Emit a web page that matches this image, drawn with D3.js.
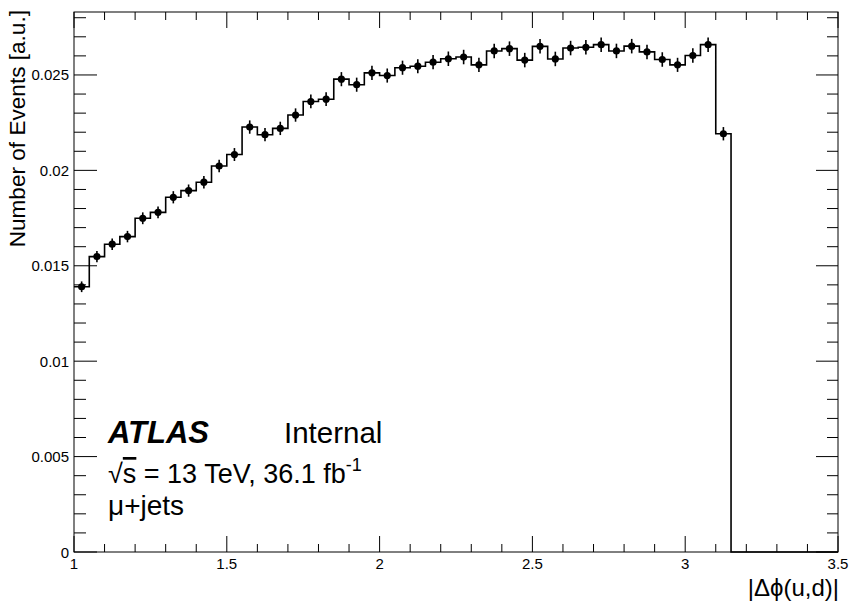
<!DOCTYPE html>
<html>
<head>
<meta charset="utf-8">
<script src="https://cdn.jsdelivr.net/npm/d3@7"></script>
<style>
  html, body { margin: 0; padding: 0; background: #fff; }
  svg { display: block; font-family: "Liberation Sans", Arial, Helvetica, sans-serif; }
</style>
</head>
<body>
<svg id="chart" width="849" height="607"></svg>
<script>
// ---- data ----
const binEdges = [1.00,1.05,1.10,1.15,1.20,1.25,1.30,1.35,1.40,1.45,1.50,1.55,1.60,1.65,1.70,1.75,1.80,1.85,1.90,1.95,
                  2.00,2.05,2.10,2.15,2.20,2.25,2.30,2.35,2.40,2.45,2.50,2.55,2.60,2.65,2.70,2.75,2.80,2.85,2.90,2.95,
                  3.00,3.05,3.10,3.15];
const values = [0.01390,0.01548,0.01613,0.01653,0.01749,0.01780,0.01859,0.01894,0.01938,0.02023,
                0.02083,0.02227,0.02187,0.02220,0.02290,0.02361,0.02373,0.02478,0.02449,0.02511,
                0.02497,0.02538,0.02546,0.02567,0.02585,0.02594,0.02553,0.02626,0.02638,0.02578,
                0.02650,0.02584,0.02641,0.02645,0.02659,0.02626,0.02651,0.02621,0.02581,0.02553,
                0.02602,0.02659,0.02192];
const errors = [0.00028,0.00029,0.00030,0.00030,0.00031,0.00031,0.00032,0.00032,0.00033,0.00033,
                0.00034,0.00035,0.00035,0.00035,0.00035,0.00036,0.00036,0.00037,0.00037,0.00037,
                0.00037,0.00037,0.00037,0.00037,0.00038,0.00038,0.00037,0.00038,0.00038,0.00038,
                0.00038,0.00038,0.00038,0.00038,0.00038,0.00038,0.00038,0.00038,0.00038,0.00037,
                0.00038,0.00038,0.00035];
const xMajorTicks = [1, 1.5, 2, 2.5, 3, 3.5];
const xTickLabels = ["1", "1.5", "2", "2.5", "3", "3.5"];
const yMajorTicks = [0, 0.005, 0.01, 0.015, 0.02, 0.025];
const yTickLabels = ["0", "0.005", "0.01", "0.015", "0.02", "0.025"];
const xDomain = [1, 3.5];
const yDomain = [0, 0.0283];

// ---- layout ----
const svg = d3.select("#chart");
const W = 849, H = 607;
const m = {left: 74, right: 11, top: 12, bottom: 55};
const pw = W - m.left - m.right, ph = H - m.top - m.bottom;
const x = d3.scaleLinear().domain(xDomain).range([m.left, m.left + pw]);
const y = d3.scaleLinear().domain(yDomain).range([m.top + ph, m.top]);

const xMinor = d3.range(10, 36).map(d => d / 10).filter(d => !xMajorTicks.some(t => Math.abs(t - d) < 1e-9));
const yMinor = d3.range(0, 29).map(d => d / 1000).filter(d => !yMajorTicks.some(t => Math.abs(t - d) < 1e-9));

const tickCol = "#000";
const g = svg.append("g");

// ticks
function ticks(vals, len, side) {
  const sel = g.append("g").attr("stroke", tickCol).attr("stroke-width", 1);
  vals.forEach(v => {
    if (side === "bottom") sel.append("line").attr("x1", x(v)).attr("x2", x(v)).attr("y1", m.top + ph).attr("y2", m.top + ph - len);
    if (side === "top") sel.append("line").attr("x1", x(v)).attr("x2", x(v)).attr("y1", m.top).attr("y2", m.top + len);
    if (side === "left") sel.append("line").attr("y1", y(v)).attr("y2", y(v)).attr("x1", m.left).attr("x2", m.left + len);
    if (side === "right") sel.append("line").attr("y1", y(v)).attr("y2", y(v)).attr("x1", m.left + pw).attr("x2", m.left + pw - len);
  });
}
ticks(xMajorTicks, 16, "bottom"); ticks(xMinor, 8, "bottom");
ticks(xMajorTicks, 16, "top"); ticks(xMinor, 8, "top");
ticks(yMajorTicks, 23, "left"); ticks(yMinor, 12, "left");
ticks(yMajorTicks, 22, "right"); ticks(yMinor, 11, "right");

// frame
g.append("rect").attr("x", m.left).attr("y", m.top).attr("width", pw).attr("height", ph)
  .attr("fill", "none").attr("stroke", "#000").attr("stroke-width", 1);

// tick labels
g.append("g").selectAll("text").data(xMajorTicks).join("text")
  .attr("x", d => x(d)).attr("y", m.top + ph + 17)
  .attr("text-anchor", "middle").attr("font-size", 15).text((d, i) => xTickLabels[i]);
g.append("g").selectAll("text").data(yMajorTicks).join("text")
  .attr("x", m.left - 5).attr("y", d => y(d) + 5.5)
  .attr("text-anchor", "end").attr("font-size", 15).text((d, i) => yTickLabels[i]);

// axis titles
g.append("text").attr("transform", `translate(25,${m.top - 2}) rotate(-90)`)
  .attr("text-anchor", "end").attr("font-size", 22.6).text("Number of Events [a.u.]");
g.append("text").attr("x", m.left + pw + 1).attr("y", H - 11)
  .attr("text-anchor", "end").attr("font-size", 24).text("|Δϕ(u,d)|");

// histogram step line
const stepPts = values.map((v, i) => [binEdges[i], v]);
stepPts.push([binEdges[binEdges.length - 1], 0]);
stepPts.push([xDomain[1], 0]);
const line = d3.line().x(d => x(d[0])).y(d => y(d[1])).curve(d3.curveStepAfter);
g.append("path").attr("d", line(stepPts)).attr("fill", "none").attr("stroke", "#000").attr("stroke-width", 1.6);

// data points with errors
const centers = values.map((v, i) => (binEdges[i] + binEdges[i + 1]) / 2);
const pts = g.append("g");
pts.selectAll("line").data(values).join("line")
  .attr("x1", (d, i) => x(centers[i])).attr("x2", (d, i) => x(centers[i]))
  .attr("y1", (d, i) => y(d - errors[i])).attr("y2", (d, i) => y(d + errors[i]))
  .attr("stroke", "#000").attr("stroke-width", 1.6);
pts.selectAll("circle").data(values).join("circle")
  .attr("cx", (d, i) => x(centers[i])).attr("cy", d => y(d)).attr("r", 3.6).attr("fill", "#000");

// ATLAS label
const lab = g.append("g");
lab.append("text").attr("x", 108).attr("y", 443).attr("font-size", 31)
  .attr("font-weight", "bold").attr("font-style", "italic").text("ATLAS");
lab.append("text").attr("x", 284).attr("y", 443).attr("font-size", 29.5).text("Internal");
const t2 = lab.append("text").attr("x", 108).attr("y", 483).attr("font-size", 27);
t2.append("tspan").text("√");
t2.append("tspan").attr("text-decoration", "overline").text("s");
t2.append("tspan").text(" = 13 TeV, 36.1 fb");
t2.append("tspan").attr("dy", -12).attr("font-size", 18).text("-1");
lab.append("text").attr("x", 108).attr("y", 515).attr("font-size", 28).text("μ+jets");
</script>
</body>
</html>
